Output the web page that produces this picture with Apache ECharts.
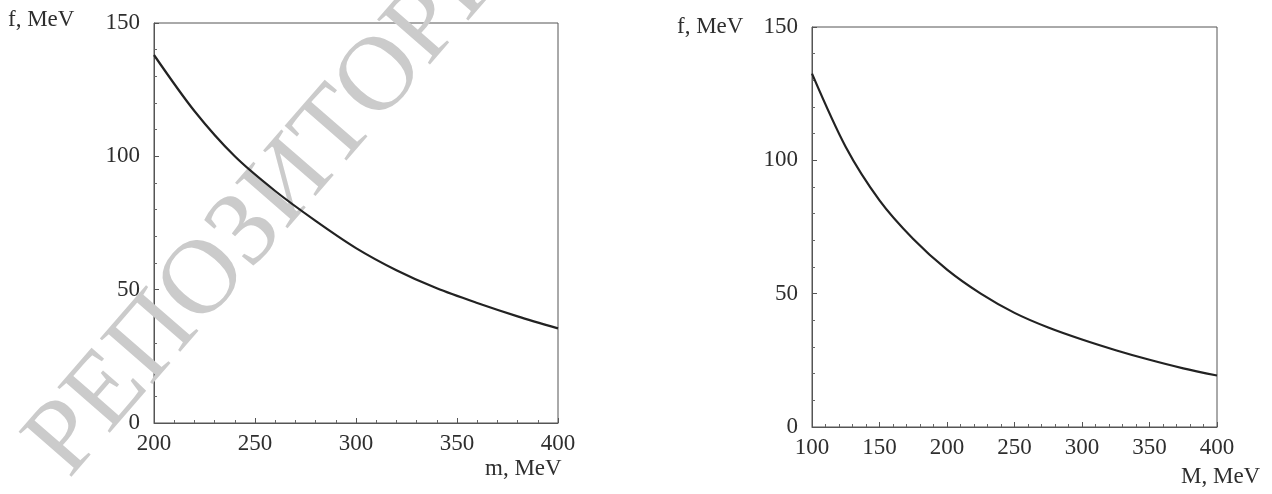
<!DOCTYPE html>
<html>
<head>
<meta charset="utf-8">
<script src="https://cdn.jsdelivr.net/npm/echarts@6/dist/echarts.min.js"></script>
<style>
  html, body { margin: 0; padding: 0; background: #fff; }
  #chart { width: 1272px; height: 494px; }
</style>
</head>
<body>
<div id="chart"></div>
<script>
// left panel: f vs m
var mLeft = [200, 220, 240, 260, 280, 300, 320, 340, 360, 380, 400];
var fLeft = [138, 117, 100, 87, 75.8, 65.6, 57.3, 50.5, 45, 40, 35.5];

// right panel: f vs M
var mRight = [100, 125, 150, 175, 200, 225, 250, 275, 300, 325, 350, 375, 400];
var fRight = [132.5, 105, 85, 70.5, 59, 50, 42.8, 37.3, 32.8, 28.8, 25.2, 22, 19.3];

var yTicks = [0, 50, 100, 150];
var watermark = 'РЕПОЗИТОРИЙ';

function pairs(xs, ys) {
    var out = [];
    for (var i = 0; i < xs.length; i++) {
        out.push([xs[i], ys[i]]);
    }
    return out;
}

var font = 'Liberation Serif, Times New Roman, serif';
var ink = '#2e2e2e';

function xAxisFor(idx, min) {
    return {
        gridIndex: idx,
        type: 'value',
        min: min,
        max: 400,
        interval: 50,
        axisLine: { show: true, lineStyle: { color: '#555', width: 1 } },
        axisTick: { inside: true, length: 5, lineStyle: { color: '#555' } },
        minorTick: { show: true, splitNumber: 5, length: 3, lineStyle: { color: '#666' } },
        axisLabel: { color: ink, fontFamily: font, fontSize: 23, margin: 9 },
        splitLine: { show: false }
    };
}

function yAxisFor(idx) {
    return {
        gridIndex: idx,
        type: 'value',
        min: yTicks[0],
        max: yTicks[yTicks.length - 1],
        interval: 50,
        axisLine: { show: true, lineStyle: { color: '#555', width: 1 } },
        axisTick: { inside: true, length: 5, lineStyle: { color: '#555' } },
        minorTick: { show: true, splitNumber: 5, length: 3, lineStyle: { color: '#666' } },
        axisLabel: { color: ink, fontFamily: font, fontSize: 23, margin: 14 },
        splitLine: { show: false }
    };
}

var chart = echarts.init(document.getElementById('chart'));

option = {
    backgroundColor: '#fff',
    animation: false,
    grid: [
        { left: 154, top: 23, width: 404, height: 400, show: true, borderColor: '#555', borderWidth: 1 },
        { left: 812, top: 27, width: 405, height: 400, show: true, borderColor: '#555', borderWidth: 1 }
    ],
    xAxis: [xAxisFor(0, 200), xAxisFor(1, 100)],
    yAxis: [yAxisFor(0), yAxisFor(1)],
    graphic: [
        {
            type: 'text', left: 8, top: 8, z: 10,
            style: { text: 'f, MeV', fill: ink, font: '23px ' + font }
        },
        {
            type: 'text', left: 677, top: 15, z: 10,
            style: { text: 'f, MeV', fill: ink, font: '23px ' + font }
        },
        {
            type: 'text', left: 485, top: 457, z: 10,
            style: { text: 'm, MeV', fill: ink, font: '23px ' + font }
        },
        {
            type: 'text', left: 1181, top: 465, z: 10,
            style: { text: 'M, MeV', fill: ink, font: '23px ' + font }
        },
        {
            type: 'text', x: 88, y: 496, rotation: 49 * Math.PI / 180, z: 1,
            style: {
                text: watermark, fill: '#cbcbcb',
                font: '106px ' + font,
                textAlign: 'left', textVerticalAlign: 'bottom'
            }
        }
    ],
    series: [
        {
            type: 'line', xAxisIndex: 0, yAxisIndex: 0,
            data: pairs(mLeft, fLeft),
            smooth: 0.3, showSymbol: false, z: 5,
            lineStyle: { color: '#222', width: 2.2 }
        },
        {
            type: 'line', xAxisIndex: 1, yAxisIndex: 1,
            data: pairs(mRight, fRight),
            smooth: 0.3, showSymbol: false, z: 5,
            lineStyle: { color: '#222', width: 2.2 }
        }
    ]
};
chart.setOption(option);
</script>
</body>
</html>
